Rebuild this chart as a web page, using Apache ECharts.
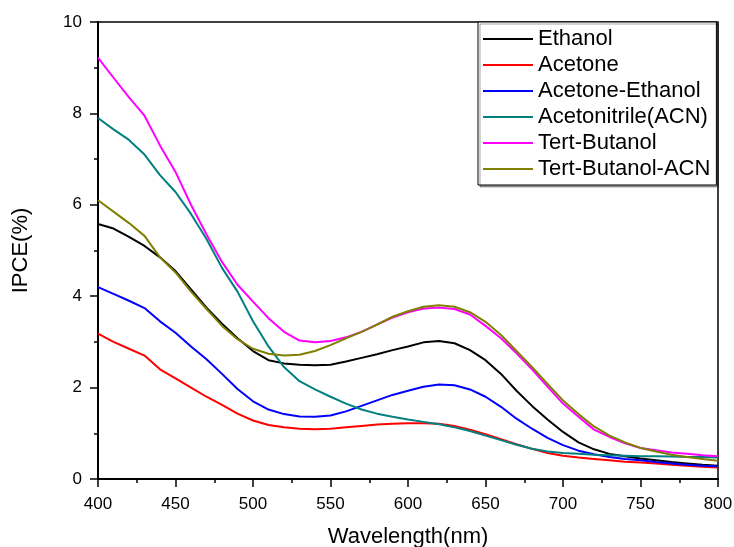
<!DOCTYPE html>
<html>
<head>
<meta charset="utf-8">
<script src="https://cdn.jsdelivr.net/npm/echarts@6/dist/echarts.min.js"></script>
<style>
  html, body { margin: 0; padding: 0; background: #fff; }
  #chart { width: 734px; height: 547px; }
</style>
</head>
<body>
<div id="chart"></div>
<script>
  // 波长 400-800 nm，步长 10
  var wavelength = [400,410,420,430,440,450,460,470,480,490,500,510,520,530,540,550,560,570,580,590,600,
    610,620,630,640,650,660,670,680,690,700,710,720,730,740,750,760,770,780,790,800];

  var ethanol = [5.58,5.48,5.3,5.1,4.85,4.55,4.15,3.75,3.4,3.08,2.8,2.6,2.53,2.5,2.49,2.5,2.57,2.65,2.73,2.82,2.9,
    2.99,3.02,2.97,2.82,2.6,2.3,1.93,1.6,1.3,1.03,0.8,0.65,0.55,0.5,0.45,0.41,0.37,0.34,0.31,0.29];
  var acetone = [3.18,3.0,2.85,2.7,2.4,2.2,2.0,1.8,1.62,1.43,1.28,1.18,1.13,1.1,1.09,1.1,1.13,1.16,1.19,1.21,1.22,
    1.22,1.21,1.16,1.08,0.98,0.87,0.76,0.66,0.57,0.51,0.47,0.44,0.41,0.38,0.36,0.34,0.31,0.29,0.27,0.25];
  var acetoneEthanol = [4.2,4.05,3.9,3.74,3.45,3.2,2.9,2.62,2.3,1.97,1.7,1.52,1.42,1.37,1.36,1.39,1.48,1.6,1.72,1.84,1.93,
    2.02,2.07,2.05,1.96,1.8,1.58,1.32,1.1,0.9,0.74,0.62,0.54,0.48,0.44,0.41,0.37,0.34,0.31,0.29,0.28];
  var acn = [7.9,7.65,7.42,7.1,6.65,6.28,5.8,5.25,4.62,4.1,3.45,2.9,2.45,2.14,1.96,1.8,1.65,1.52,1.43,1.36,1.3,
    1.25,1.2,1.13,1.05,0.95,0.85,0.75,0.66,0.6,0.57,0.55,0.53,0.52,0.51,0.5,0.5,0.49,0.48,0.48,0.47];
  var tertButanol = [9.22,8.78,8.35,7.95,7.3,6.72,6.0,5.35,4.75,4.25,3.88,3.52,3.22,3.03,2.99,3.02,3.1,3.22,3.38,3.53,3.65,
    3.73,3.75,3.72,3.6,3.35,3.08,2.75,2.4,2.02,1.65,1.36,1.08,0.92,0.78,0.68,0.63,0.58,0.55,0.52,0.5];
  var tertButanolAcn = [6.1,5.85,5.6,5.32,4.85,4.52,4.1,3.72,3.35,3.06,2.85,2.74,2.7,2.72,2.8,2.93,3.08,3.22,3.38,3.55,3.67,
    3.77,3.8,3.77,3.65,3.44,3.15,2.8,2.45,2.08,1.72,1.42,1.15,0.95,0.8,0.68,0.6,0.53,0.48,0.44,0.4];

  var seriesNames = ['Ethanol','Acetone','Acetone-Ethanol','Acetonitrile(ACN)','Tert-Butanol','Tert-Butanol-ACN'];
  var seriesValues = [ethanol, acetone, acetoneEthanol, acn, tertButanol, tertButanolAcn];
  var colors = ['#000000','#ff0000','#0000ff','#008080','#ff00ff','#808000'];

  var font = 'Liberation Sans, Arial, sans-serif';
  var chart = echarts.init(document.getElementById('chart'));

  var series = seriesNames.map(function (name, i) {
    return {
      name: name,
      type: 'line',
      symbol: 'none',
      smooth: false,
      lineStyle: { width: 2, color: colors[i] },
      itemStyle: { color: colors[i] },
      data: wavelength.map(function (w, j) { return [w, seriesValues[i][j]]; })
    };
  });

  var option = {
    animation: false,
    grid: {
      left: 98, right: 16, top: 22, bottom: 68,
      outerBoundsMode: 'none',
      show: true, borderColor: '#000', borderWidth: 1.5, backgroundColor: 'transparent'
    },
    legend: {
      orient: 'vertical',
      left: 478,
      top: 22,
      data: seriesNames,
      icon: 'rect',
      itemWidth: 50,
      itemHeight: 2,
      itemGap: 4,
      padding: [6, 6, 5, 5],
      borderColor: '#000',
      borderWidth: 1,
      backgroundColor: '#fff',
      shadowColor: 'rgba(0,0,0,0.35)',
      shadowOffsetX: 2,
      shadowOffsetY: 2,
      shadowBlur: 0,
      textStyle: { fontFamily: font, fontSize: 22, lineHeight: 22, color: '#000' }
    },
    xAxis: {
      type: 'value',
      min: 400, max: 800, interval: 50,
      name: 'Wavelength(nm)',
      nameLocation: 'middle',
      nameGap: 47,
      nameTextStyle: { fontFamily: font, fontSize: 22, color: '#000' },
      axisLine: { show: true, onZero: false, lineStyle: { color: '#000', width: 2 } },
      axisTick: { show: true, inside: false, length: 8, lineStyle: { color: '#000', width: 1.5 } },
      minorTick: { show: true, splitNumber: 2, length: 4, lineStyle: { color: '#000', width: 1.5 } },
      axisLabel: { fontFamily: font, fontSize: 17, color: '#000', margin: 17 },
      splitLine: { show: false }
    },
    yAxis: {
      type: 'value',
      min: 0, max: 10, interval: 2,
      name: 'IPCE(%)',
      nameLocation: 'middle',
      nameGap: 66,
      nameTextStyle: { fontFamily: font, fontSize: 22, color: '#000' },
      axisLine: { show: true, lineStyle: { color: '#000', width: 2 } },
      axisTick: { show: true, inside: false, length: 8, lineStyle: { color: '#000', width: 1.5 } },
      minorTick: { show: true, splitNumber: 2, length: 4, lineStyle: { color: '#000', width: 1.5 } },
      axisLabel: { fontFamily: font, fontSize: 17, color: '#000', margin: 16 },
      splitLine: { show: false }
    },
    series: series
  };

  chart.setOption(option);
</script>
</body>
</html>
